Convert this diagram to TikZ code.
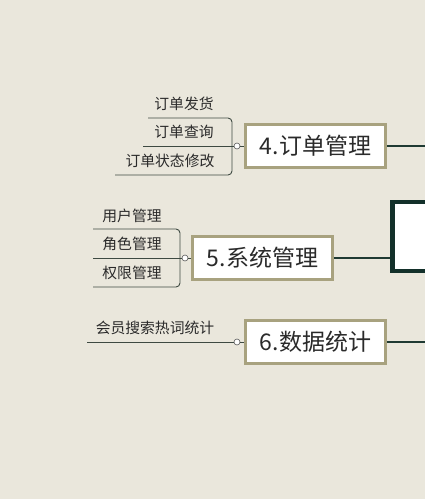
\documentclass[tikz,border=0pt]{standalone}
\usepackage{fontspec}
\setmainfont{Noto Sans CJK SC}
\newfontfamily\cjk{Noto Sans CJK SC}
\definecolor{bg}{HTML}{EAE7DC}
\definecolor{boxline}{HTML}{A8A27F}
\definecolor{centerline}{HTML}{13302A}
\definecolor{conn}{HTML}{1F3A33}
\definecolor{subline}{HTML}{3E4A42}
\definecolor{txt}{HTML}{2A2A2A}
\begin{document}
\begin{tikzpicture}[x=1pt,y=-1pt,
  topic/.style={draw=boxline,line width=2.6pt,fill=white,minimum width=140pt,minimum height=43pt,inner sep=0pt,font=\cjk\fontsize{23}{26}\selectfont,text=txt},
  sub/.style={font=\cjk\fontsize{14.8}{17}\selectfont,text=txt,inner sep=0pt},
  ln/.style={draw=subline,line width=0.9pt},
  mainln/.style={draw=conn,line width=1.8pt},
  knob/.style={circle,draw=gray!70!black,fill=white,line width=0.6pt,minimum size=6pt,inner sep=0pt}]
\fill[bg] (0,0) rectangle (425,499);
\useasboundingbox (0,0) rectangle (425,499);
% central node (cut off)
\node[draw=centerline,line width=4.5pt,fill=white,minimum width=120pt,minimum height=69pt,inner sep=0pt] (c) at (452.5,236.5) {};
% topics
\node[topic] (b4) at (315.5,146) {4.订单管理};
\node[topic] (b5) at (262.5,258) {5.系统管理};
\node[topic] (b6) at (315.5,342) {6.数据统计};
\coordinate (e4) at (430,146);
\coordinate (e6) at (430,342);
\draw[mainln] (b4.east) -- (e4);
\draw[mainln] (b5.east) -- (c.west |- b5.east);
\draw[mainln] (b6.east) -- (e6);
% group 4
\node[sub] (s41) at (184,104) {订单发货};
\node[sub] (s42) at (184,132) {订单查询};
\node[sub] (s43) at (170,161) {订单状态修改};
\node[knob] (k4) at (237,146) {};
\draw[ln,rounded corners=4pt] (148,118) -| (232,175) -- (115,175);
\draw[ln] (143,146) -- (k4.west);
\draw[ln] (k4.east) -- (b4.west);
% group 5
\node[sub] (s51) at (132,216) {用户管理};
\node[sub] (s52) at (132,244) {角色管理};
\node[sub] (s53) at (132,273) {权限管理};
\node[knob] (k5) at (185,258) {};
\draw[ln,rounded corners=4pt] (93,229) -| (180,287) -- (93,287);
\draw[ln] (93,258) -- (k5.west);
\draw[ln] (k5.east) -- (b5.west);
% group 6
\node[sub] (s61) at (155,328) {会员搜索热词统计};
\node[knob] (k6) at (237,342) {};
\draw[ln] (87,342) -- (k6.west);
\draw[ln] (k6.east) -- (b6.west);
\end{tikzpicture}
\end{document}
